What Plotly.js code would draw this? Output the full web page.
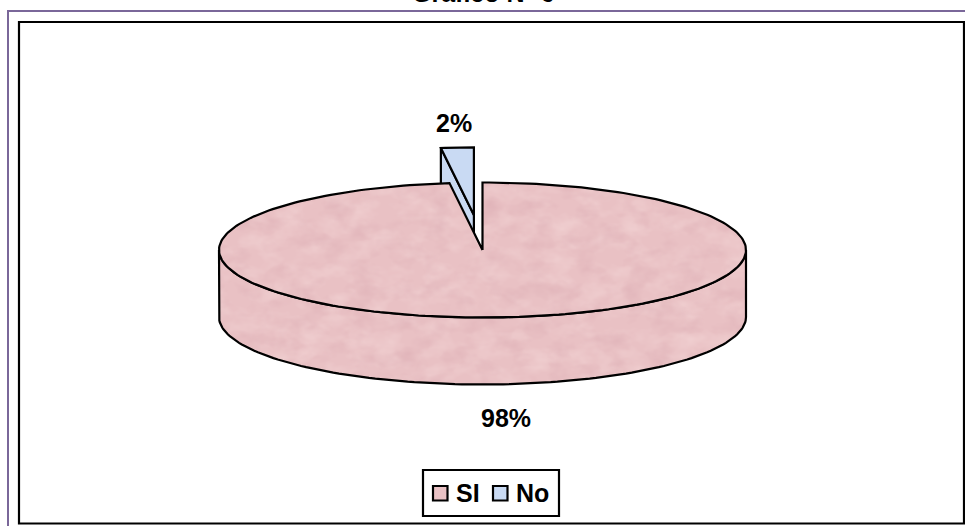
<!DOCTYPE html>
<html>
<head>
<meta charset="utf-8">
<script src="https://cdn.plot.ly/plotly-3.0.1.min.js"></script>
<style>html,body{margin:0;padding:0;background:#fff;overflow:hidden}#chart{width:965px;height:526px}</style>
</head>
<body>
<div id="chart"></div>
<script>
// Survey answers
const categories = ['SI', 'No'];
const shares = [98, 2];
const labels = ['98%', '2%'];
const fills = ['#e9c1c4', '#c9daf3'];

// Disc proportions in pixels; one axis unit equals one radius
const W = 965, H = 526;
const cx = 482.5, cy = 250, rx = 263.5, ry = 67.5;
const depth = 67;         // extruded height, in pixels
const burst = 0.52;       // how far the small slice is pulled out, in radii
const depthU = depth / ry;

const rad = d => d * Math.PI / 180;
const noSweep = shares[1] / 100 * 360;

// Point on the unit disc, angle measured clockwise from 12 o'clock
const pt = (deg, r = 1) => [r * Math.sin(rad(deg)), r * Math.cos(rad(deg))];

function arc(a0, a1, n) {
  const out = [];
  for (let i = 0; i <= n; i++) out.push(pt(a0 + (a1 - a0) * i / n));
  return out;
}
function poly(points, dx = 0, dy = 0) {
  return { x: points.map(p => p[0] + dx), y: points.map(p => p[1] + dy) };
}
function area(points, fill, name, dx, dy) {
  const p = poly(points, dx, dy);
  p.x.push(p.x[0]); p.y.push(p.y[0]);
  return {
    type: 'scatter', mode: 'lines', x: p.x, y: p.y, fill: 'toself',
    fillcolor: fill, line: { color: '#000', width: 2.2, shape: 'linear' },
    hoverinfo: 'skip', showlegend: false, name
  };
}

// Small slice: pulled out along its bisector
const mid = -noSweep / 2;
const off = pt(mid, burst);
const noTop = [[0, 0]].concat(arc(-noSweep, 0, 8));
const noEdge = [[0, 0], pt(-noSweep), [pt(-noSweep)[0], pt(-noSweep)[1] - depthU], [0, -depthU]];

// Large slice: front wall plus top face
const wall = arc(90, 270, 120).concat(arc(270, 90, 120).map(p => [p[0], p[1] - depthU]));
const siTop = [[0, 0]].concat(arc(0, 360 - noSweep, 240));

const traces = [
  area(noEdge, fills[1], 'No wall', off[0], off[1]),
  area(noTop, fills[1], 'No top', off[0], off[1]),
  area(wall, fills[0], 'SI wall', 0, 0),
  area(siTop, fills[0], 'SI top', 0, 0)
];

const font = { family: '"Liberation Sans", Arial, sans-serif', color: '#000' };

// Paper-coordinate helpers, taking pixel positions
const px = v => v / W;
const py = v => 1 - v / H;
const box = (x0, y0, x1, y1, fill, width) => ({
  type: 'rect', xref: 'paper', yref: 'paper',
  x0: px(x0), x1: px(x1), y0: py(y1), y1: py(y0),
  line: { color: '#000', width }, fillcolor: fill
});

// Key placed under the disc
const keySwatchX = [433, 493];
const keyTextX = [455.5, 515.5];
const keyShapes = [box(423, 470, 559, 516, '#fff', 2.2)]
  .concat(categories.map((c, i) => box(keySwatchX[i], 486, keySwatchX[i] + 14.5, 500.5, fills[i], 2.2)));
const keyTexts = categories.map((c, i) => ({
  text: '<b>' + c + '</b>', x: px(keyTextX[i]), y: py(493), xref: 'paper', yref: 'paper',
  xanchor: 'left', yanchor: 'middle', showarrow: false, xshift: -2, font: { ...font, size: 25 }
}));

const layout = {
  width: W, height: H,
  margin: { l: 0, r: 0, t: 0, b: 0 },
  paper_bgcolor: '#fff', plot_bgcolor: '#fff',
  xaxis: { range: [-cx / rx, (W - cx) / rx], visible: false, fixedrange: true },
  yaxis: { range: [(cy - H) / ry, cy / ry], visible: false, fixedrange: true },
  showlegend: false,
  annotations: [
    { text: '<b>' + labels[0] + '</b>', x: pt(180)[0] + 0.09, y: pt(180)[1] - depthU - 0.5, xref: 'x', yref: 'y',
      showarrow: false, font: { ...font, size: 25 } },
    { text: '<b>' + labels[1] + '</b>', x: off[0] + pt(mid)[0] - 0.012, y: off[1] + pt(mid)[1] + 0.36, xref: 'x', yref: 'y',
      showarrow: false, font: { ...font, size: 25 } },
    { text: '<b>Grafico Nº 6</b>', x: px(484), y: 1 + 7 / H, xref: 'paper', yref: 'paper',
      xanchor: 'center', yanchor: 'middle', showarrow: false, font: { ...font, size: 25 } },
    ...keyTexts
  ],
  shapes: [
    { type: 'path', xref: 'paper', yref: 'paper',
      path: `M ${px(8)} 0 L ${px(8)} ${py(11)} L 1 ${py(11)}`,
      line: { color: '#7a6799', width: 2 } },
    box(19, 22, 964, 523.5, 'rgba(0,0,0,0)', 2.2),
    ...keyShapes
  ]
};

// Mottled paper-like grain for the large slice
function addGrain(gd) {
  const svg = gd.querySelector('svg.main-svg');
  const NS = 'http://www.w3.org/2000/svg';
  const defs = svg.querySelector('defs') || svg.insertBefore(document.createElementNS(NS, 'defs'), svg.firstChild);
  const f = document.createElementNS(NS, 'filter');
  f.setAttribute('id', 'grain');
  f.setAttribute('x', '0'); f.setAttribute('y', '0');
  f.setAttribute('width', '1'); f.setAttribute('height', '1');
  f.setAttribute('color-interpolation-filters', 'sRGB');
  f.innerHTML =
    '<feTurbulence type="fractalNoise" baseFrequency="0.04 0.06" numOctaves="3" seed="7" result="n"/>' +
    '<feColorMatrix in="n" type="matrix" values="0 0 0 0 0.96  0 0 0 0 0.85  0 0 0 0 0.85  1.1 0 0 0 -0.46" result="light"/>' +
    '<feColorMatrix in="n" type="matrix" values="0 0 0 0 0.85  0 0 0 0 0.66  0 0 0 0 0.69  0 1.0 0 0 -0.46" result="dark"/>' +
    '<feMerge result="m"><feMergeNode in="SourceGraphic"/><feMergeNode in="light"/><feMergeNode in="dark"/></feMerge>' +
    '<feComposite in="m" in2="SourceGraphic" operator="in"/>';
  defs.appendChild(f);
  const groups = gd.querySelectorAll('.scatterlayer .trace');
  [2, 3].forEach(i => {
    const p = groups[i] && groups[i].querySelector('.js-fill');
    if (p) p.setAttribute('filter', 'url(#grain)');
  });
}

Plotly.newPlot('chart', traces, layout, { displayModeBar: false, staticPlot: true })
  .then(addGrain);
</script>
</body>
</html>
